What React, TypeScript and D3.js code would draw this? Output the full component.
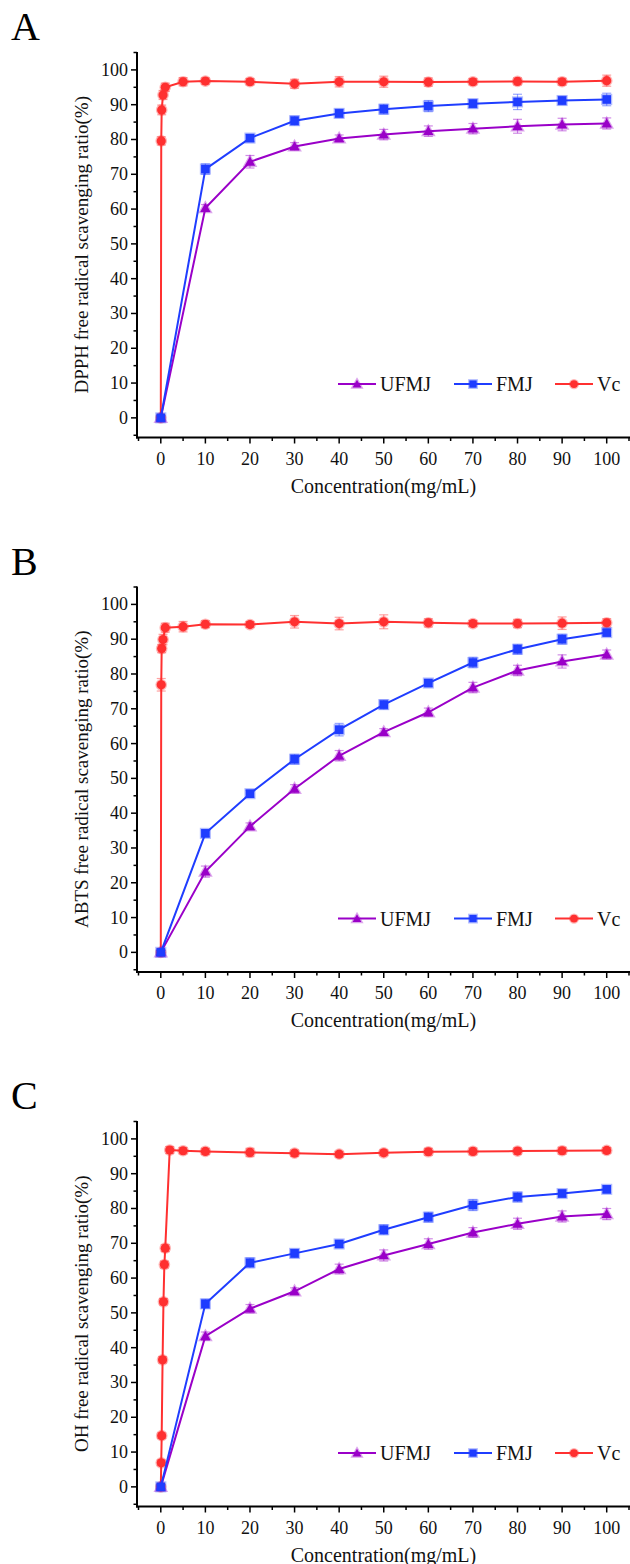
import * as d3 from 'd3'

// concentrations (mg/mL)
const concentrations = [0, 10, 20, 30, 40, 50, 60, 70, 80, 90, 100]
const vcConcAB = [0, 0.1, 0.2, 0.5, 1, 5, 10, 20, 30, 40, 50, 60, 70, 80, 90, 100]
const vcConcC = [0, 0.1, 0.2, 0.4, 0.6, 0.8, 1, 2, 5, 10, 20, 30, 40, 50, 60, 70, 80, 90, 100]

// A: DPPH
const dpphUFMJ = [0, 60.3, 73.6, 78.0, 80.3, 81.4, 82.4, 83.1, 83.8, 84.3, 84.6]
const dpphUFMJErr = [0.6, 1.0, 1.8, 1.1, 1.0, 1.5, 1.5, 1.5, 2.0, 1.8, 1.6]
const dpphFMJ = [0, 71.5, 80.4, 85.4, 87.5, 88.7, 89.6, 90.3, 90.8, 91.2, 91.5]
const dpphFMJErr = [0.6, 1.5, 1.0, 1.3, 1.2, 1.4, 1.6, 1.2, 2.2, 1.2, 1.8]
const dpphVc = [0, 79.6, 88.5, 92.8, 95.0, 96.6, 96.8, 96.6, 96.0, 96.6, 96.6, 96.5, 96.6, 96.7, 96.6, 96.9]
const dpphVcErr = [0.5, 1.2, 1.4, 1.3, 1.2, 1.2, 0.9, 0.9, 1.3, 1.5, 1.6, 1.2, 0.9, 1.0, 1.0, 1.6]

// B: ABTS
const abtsUFMJ = [0, 23.2, 36.2, 47.0, 56.5, 63.3, 69.0, 76.1, 81.0, 83.6, 85.6]
const abtsUFMJErr = [0.6, 1.6, 1.0, 1.2, 1.5, 1.0, 1.2, 1.5, 1.5, 1.9, 1.3]
const abtsFMJ = [0, 34.2, 45.6, 55.5, 64.0, 71.2, 77.4, 83.3, 87.1, 90.0, 91.9]
const abtsFMJErr = [0.6, 1.0, 1.0, 1.4, 1.8, 1.3, 1.0, 1.5, 1.4, 1.4, 0.9]
const abtsVc = [0, 76.9, 87.3, 89.9, 93.3, 93.6, 94.3, 94.2, 95.0, 94.5, 95.0, 94.7, 94.5, 94.5, 94.6, 94.7]
const abtsVcErr = [0.5, 1.8, 1.2, 1.5, 1.3, 1.5, 1.0, 0.8, 1.8, 1.8, 2.0, 1.2, 0.9, 1.2, 1.8, 1.2]

// C: OH
const ohUFMJ = [0, 43.3, 51.2, 56.2, 62.6, 66.5, 69.8, 73.1, 75.6, 77.7, 78.4]
const ohUFMJErr = [0.6, 1.2, 1.2, 1.0, 1.4, 1.6, 1.5, 1.4, 1.6, 1.6, 1.6]
const ohFMJ = [0, 52.6, 64.4, 67.1, 69.8, 73.9, 77.5, 81.0, 83.3, 84.3, 85.5]
const ohFMJErr = [0.6, 1.3, 1.4, 1.2, 1.0, 1.4, 1.4, 1.6, 1.4, 1.0, 1.0]
const ohVc = [0, 6.9, 14.7, 36.5, 53.2, 63.9, 68.6, 96.8, 96.6, 96.4, 96.1, 95.9, 95.6, 96.0, 96.3, 96.4, 96.5, 96.6, 96.7]
const ohVcErr = [0.5, 0.8, 0.8, 0.9, 0.9, 1.0, 1.0, 1.0, 0.9, 0.9, 1.2, 0.9, 0.8, 0.8, 1.0, 1.0, 0.9, 1.0, 0.8]

const panelLabels = ['A', 'B', 'C']
const yTitles = [
  'DPPH free radical scavenging ratio(%)',
  'ABTS free radical scavenging ratio(%)',
  'OH free radical scavenging ratio(%)'
]
const xTitle = 'Concentration(mg/mL)'
const seriesNames = ['UFMJ', 'FMJ', 'Vc']
const xTicks = d3.range(0, 101, 10)
const xMinor = d3.range(-5, 106, 10)
const yTicks = d3.range(0, 101, 10)
const yMinor = d3.range(-5, 106, 10)

const colors = { UFMJ: '#9a00c8', FMJ: '#1f3dff', Vc: '#ff3030' }
const font = '"Liberation Serif", "Times New Roman", serif'

const panels = [
  {
    UFMJ: [concentrations, dpphUFMJ, dpphUFMJErr],
    FMJ: [concentrations, dpphFMJ, dpphFMJErr],
    Vc: [vcConcAB, dpphVc, dpphVcErr]
  },
  {
    UFMJ: [concentrations, abtsUFMJ, abtsUFMJErr],
    FMJ: [concentrations, abtsFMJ, abtsFMJErr],
    Vc: [vcConcAB, abtsVc, abtsVcErr]
  },
  {
    UFMJ: [concentrations, ohUFMJ, ohUFMJErr],
    FMJ: [concentrations, ohFMJ, ohFMJErr],
    Vc: [vcConcC, ohVc, ohVcErr]
  }
]

const panelOffsets = [0, 534.5, 1069]

const xScale = d3.scaleLinear().domain([-5, 105]).range([138.5, 629])
const yScale = d3.scaleLinear().domain([-5.5, 105]).range([437, 52.5])
const axisX = 137
const axisY = 437.5

const Marker = ({ name, cx, cy, size = 1 }) => {
  const c = colors[name]
  const halo = { stroke: c, strokeOpacity: 0.35, strokeWidth: 2.5 }
  if (name === 'UFMJ') {
    const s = 5.2 * size
    return (
      <path
        d={`M${cx},${cy - s}L${cx + s},${cy + s * 0.75}L${cx - s},${cy + s * 0.75}Z`}
        fill={c}
        {...halo}
      />
    )
  }
  if (name === 'FMJ') {
    const s = 4.3 * size
    return <rect x={cx - s} y={cy - s} width={s * 2} height={s * 2} fill={c} {...halo} />
  }
  return <circle cx={cx} cy={cy} r={4.6 * size} fill={c} {...halo} />
}

const Series = ({ name, data }) => {
  const [xs, ys, errs] = data
  const pts = xs.map((x, i) => [xScale(x), yScale(ys[i]), errs[i]])
  const line = d3.line()(pts.map((p) => [p[0], p[1]]))
  const c = colors[name]
  return (
    <g>
      <path d={line} fill="none" stroke={c} strokeWidth={2} />
      {pts.map(([px, py, e], i) => {
        const top = py - e * 3.48
        const bot = py + e * 3.48
        return (
          <g key={i} stroke={c} strokeOpacity={0.45} strokeWidth={1.2}>
            <line x1={px} x2={px} y1={top} y2={bot} />
            <line x1={px - 4.5} x2={px + 4.5} y1={top} y2={top} />
            <line x1={px - 4.5} x2={px + 4.5} y1={bot} y2={bot} />
          </g>
        )
      })}
      {pts.map(([px, py], i) => (
        <Marker key={i} name={name} cx={px} cy={py} />
      ))}
    </g>
  )
}

const Legend = () => {
  const ly = yScale(10) + 1
  const starts = [338, 454, 555]
  return (
    <g>
      {seriesNames.map((name, i) => (
        <g key={name}>
          <line x1={starts[i]} x2={starts[i] + 38} y1={ly} y2={ly} stroke={colors[name]} strokeWidth={2} />
          <Marker name={name} cx={starts[i] + 19} cy={ly} size={0.85} />
          <text x={starts[i] + 42} y={ly + 7} fontSize={20} fontFamily={font} fill="#111">
            {name}
          </text>
        </g>
      ))}
    </g>
  )
}

const Panel = ({ index }) => {
  const data = panels[index]
  return (
    <g transform={`translate(0,${panelOffsets[index]})`}>
      <text x={11} y={40} fontSize={40} fontFamily={font} fill="#000">
        {panelLabels[index]}
      </text>
      <text
        transform={`translate(88,${(52 + axisY) / 2}) rotate(-90)`}
        textAnchor="middle"
        fontSize={19}
        fontFamily={font}
        fill="#111"
      >
        {yTitles[index]}
      </text>
      <text x={(axisX + 630) / 2} y={axisY + 55} textAnchor="middle" fontSize={20} fontFamily={font} fill="#111">
        {xTitle}
      </text>
      {/* axes */}
      <line x1={axisX} x2={axisX} y1={52} y2={axisY + 1} stroke="#000" strokeWidth={2} />
      <line x1={axisX - 1} x2={630} y1={axisY} y2={axisY} stroke="#000" strokeWidth={2} />
      {yTicks.map((t) => (
        <g key={t}>
          <line x1={axisX - 6} x2={axisX} y1={yScale(t)} y2={yScale(t)} stroke="#000" strokeWidth={1.5} />
          <text x={axisX - 9} y={yScale(t) + 6} textAnchor="end" fontSize={18} fontFamily={font} fill="#111">
            {t}
          </text>
        </g>
      ))}
      {yMinor.map((t) => (
        <line key={t} x1={axisX - 3.5} x2={axisX} y1={yScale(t)} y2={yScale(t)} stroke="#000" strokeWidth={1.5} />
      ))}
      {xTicks.map((t) => (
        <g key={t}>
          <line x1={xScale(t)} x2={xScale(t)} y1={axisY} y2={axisY + 6} stroke="#000" strokeWidth={1.5} />
          <text x={xScale(t)} y={axisY + 27} textAnchor="middle" fontSize={18} fontFamily={font} fill="#111">
            {t}
          </text>
        </g>
      ))}
      {xMinor.map((t) => (
        <line key={t} x1={xScale(t)} x2={xScale(t)} y1={axisY} y2={axisY + 3.5} stroke="#000" strokeWidth={1.5} />
      ))}
      <Series name="Vc" data={data.Vc} />
      <Series name="UFMJ" data={data.UFMJ} />
      <Series name="FMJ" data={data.FMJ} />
      <Legend />
    </g>
  )
}

export default function App() {
  return (
    <svg
      width={630}
      height={1564}
      style={{ position: 'absolute', left: 0, top: 0, background: '#fff' }}
    >
      <rect width={630} height={1564} fill="#fff" />
      {panelLabels.map((_, i) => (
        <Panel key={i} index={i} />
      ))}
    </svg>
  )
}
